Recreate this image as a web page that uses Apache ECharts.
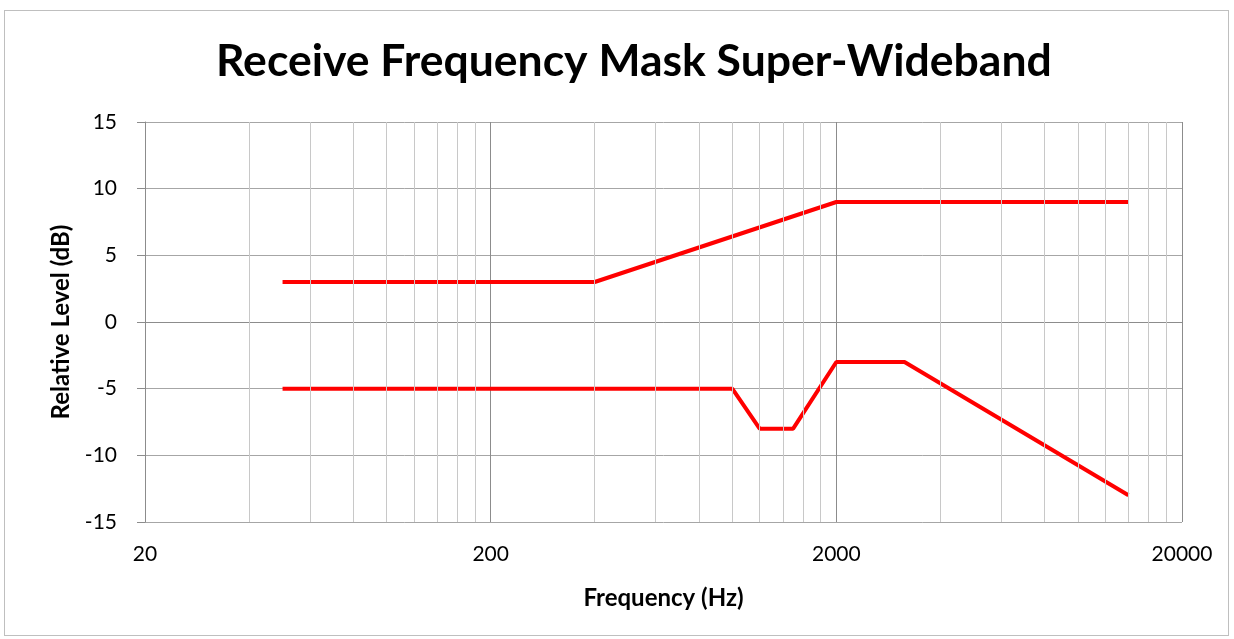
<!DOCTYPE html>
<html>
<head>
<meta charset="utf-8">
<script src="https://cdn.jsdelivr.net/npm/echarts@6/dist/echarts.min.js"></script>
<style>
  html, body { margin: 0; padding: 0; background: #fff; }
  #frame { position: absolute; left: 4px; top: 10px; width: 1225px; height: 626px; border: 1px solid #bfbfbf; box-sizing: border-box; }
  #chart { width: 1234px; height: 639px; }
</style>
</head>
<body>
<div id="frame"></div>
<div id="chart"></div>
<script>
// frequency ticks (Hz) and level mask data
const xTicks = [20, 200, 2000, 20000]
const minorFreqs = [40, 60, 80, 100, 120, 140, 160, 180,
  400, 600, 800, 1000, 1200, 1400, 1600, 1800,
  4000, 6000, 8000, 10000, 12000, 14000, 16000, 18000]
const upperFreq = [50, 400, 2000, 14000]
const upperLevel = [3, 3, 9, 9]
const lowerFreq = [50, 1000, 1200, 1500, 2000, 3150, 14000]
const lowerLevel = [-5, -5, -8, -8, -3, -3, -13]

const font = 'Lato, "Open Sans", sans-serif'
const chart = echarts.init(document.getElementById('chart'), null, { renderer: 'canvas' })

const zip = (xs, ys) => xs.map((x, i) => [x, ys[i]])

chart.setOption({
  animation: false,
  backgroundColor: 'transparent',
  title: {
    text: 'Receive Frequency Mask Super-Wideband',
    left: 211,
    top: 34,
    textStyle: { fontFamily: font, fontWeight: 'bold', fontSize: 44.5, color: '#000' }
  },
  grid: { left: 145, right: 52, top: 122, bottom: 117 },
  xAxis: {
    type: 'log',
    logBase: 10,
    min: 20,
    max: 20000,
    name: 'Frequency (Hz)',
    nameLocation: 'middle',
    nameGap: 64,
    nameTextStyle: { fontFamily: font, fontWeight: 'bold', fontSize: 24, color: '#000' },
    axisLine: { show: true, lineStyle: { color: '#8c8c8c', width: 1 } },
    axisTick: { show: true, customValues: xTicks, length: 8, lineStyle: { color: '#8c8c8c' } },
    axisLabel: {
      customValues: xTicks,
      margin: 22,
      fontFamily: font, fontSize: 21, color: '#000',
      formatter: (v) => String(Math.round(v))
    },
    splitLine: { show: true, lineStyle: { color: '#8c8c8c', width: 1 } }
  },
  yAxis: {
    type: 'value',
    min: -15,
    max: 15,
    interval: 5,
    name: 'Relative Level (dB)',
    nameLocation: 'middle',
    nameGap: 72,
    nameTextStyle: { fontFamily: font, fontWeight: 'bold', fontSize: 24, color: '#000' },
    axisLine: { show: true, lineStyle: { color: '#8c8c8c', width: 1 } },
    axisTick: { show: true, length: 8, lineStyle: { color: '#8c8c8c' } },
    axisLabel: { margin: 28, fontFamily: font, fontSize: 21, color: '#000' },
    splitLine: { show: true, lineStyle: { color: '#a6a6a6', width: 1 } }
  },
  series: [
    {
      name: 'minor grid',
      type: 'line',
      data: [],
      z: 1,
      silent: true,
      markLine: {
        silent: true,
        symbol: ['none', 'none'],
        label: { show: false },
        lineStyle: { color: '#c8c8c8', type: 'solid', width: 1 },
        data: minorFreqs.map((f) => ({ xAxis: f }))
      }
    },
    {
      name: 'upper',
      type: 'line',
      z: 3,
      data: zip(upperFreq, upperLevel),
      showSymbol: false,
      lineStyle: { color: '#ff0000', width: 4 }
    },
    {
      name: 'lower',
      type: 'line',
      z: 3,
      data: zip(lowerFreq, lowerLevel),
      showSymbol: false,
      lineStyle: { color: '#ff0000', width: 4 }
    }
  ]
})
</script>
</body>
</html>
